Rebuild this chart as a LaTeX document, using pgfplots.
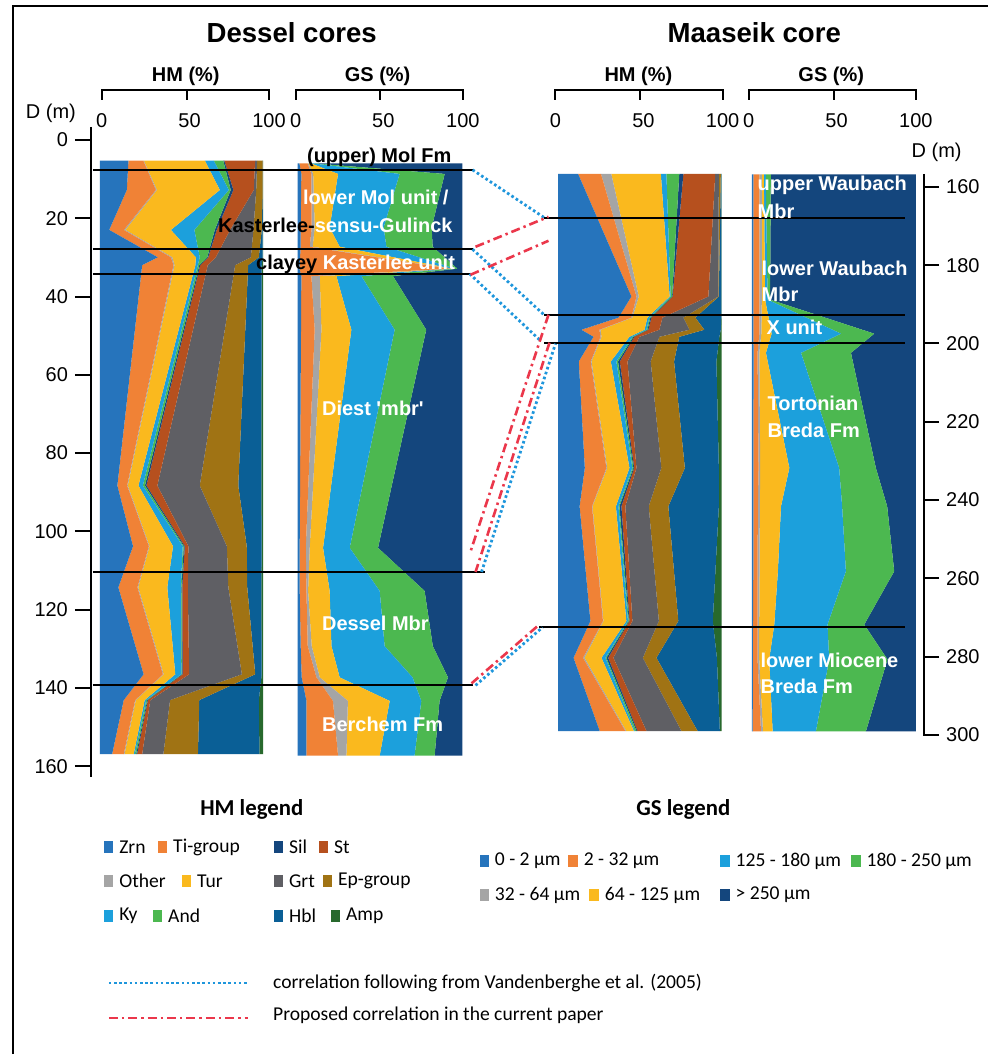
\documentclass[border=0pt]{standalone}
\usepackage{pgfplots}
\pgfplotsset{compat=1.18}
\usepackage{pgfplotstable}
\usepackage{fontspec}
\setmainfont{Liberation Sans}
\newfontfamily\calfont{Carlito}

\definecolor{cZrn}{RGB}{38,116,188}
\definecolor{cTi}{RGB}{240,130,54}
\definecolor{cOth}{RGB}{165,165,165}
\definecolor{cTur}{RGB}{250,185,30}
\definecolor{cKy}{RGB}{28,160,220}
\definecolor{cAnd}{RGB}{76,184,80}
\definecolor{cSil}{RGB}{20,70,125}
\definecolor{cSt}{RGB}{182,80,30}
\definecolor{cGrt}{RGB}{95,95,100}
\definecolor{cEp}{RGB}{160,115,20}
\definecolor{cHbl}{RGB}{10,95,150}
\definecolor{cAmp}{RGB}{40,105,45}
\definecolor{cCorrB}{RGB}{30,150,220}
\definecolor{cCorrR}{RGB}{235,55,75}

\pgfplotsset{/pgf/number format/assume math mode=true}

% Dessel heavy minerals (%), depth D in m; Z = zero baseline
\pgfplotstableread{
D Z Zrn Ti Oth Tur Ky And Sil St Grt Ep Hbl Amp
5.3 0 17.5 9.1 0.3 37.4 5.5 5.8 0.6 18.9 1.3 3.4 0.1 0.1
12.8 0 16.5 17.8 0.6 38.6 5.5 1.2 1.6 12.5 1.5 4.0 0.1 0.1
23.0 0 5.7 9.0 0.9 27.9 14.4 12.5 1.2 8.2 14.3 5.1 0.6 0.2
30.0 0 35.5 8.0 0.9 14.4 2.4 4.6 0.6 4.6 21.5 4.9 2.4 0.2
32.0 0 25.9 19.2 0.6 12.8 1.5 0.9 0.6 4.6 16.8 8.0 8.3 0.8
88.3 0 10.7 6.0 0.4 6.5 2.7 1.3 0.9 6.7 26.0 23.6 14.1 1.1
103.8 0 20.3 9.7 0.4 14.4 6.0 0.6 0.6 2.2 23.6 12.2 9.2 0.8
114.3 0 11.3 11.7 0.5 17.8 8.3 0.4 0.5 3.4 24.8 11.6 8.6 1.1
136.5 0 26.8 11.8 0.5 7.1 3.7 0.3 0.5 4.0 32.3 8.2 4.0 0.8
143.1 0 14.6 7.0 0.4 5.4 1.0 0.6 0.4 1.5 12.1 17.9 36.5 2.6
156.9 0 7.5 7.1 0.5 5.6 0.7 0.8 0.6 3.1 13.0 21.2 37.7 2.2
}\dhm

% Dessel grain size (%)
\pgfplotstableread{
D Z a b c d e f g
6.0 0 1.0 5.0 0.5 1.5 1.0 1.0 90.0
8.7 0 2.2 6.1 1.1 15.1 37.4 27.4 10.7
22.4 0 1.8 6.7 1.8 9.1 32.8 29.2 18.6
27.3 0 1.8 5.5 1.8 16.4 28.4 28.1 18.0
32.9 0 1.0 91.0 1.0 1.0 1.5 1.5 3.0
34.8 0 2.2 6.1 5.1 10.1 15.2 19.2 42.1
48.5 0 2.0 8.3 4.1 18.2 26.3 19.2 21.9
104.2 0 1.2 3.7 2.4 8.1 16.2 17.2 51.2
115.2 0 1.2 4.1 1.0 13.1 30.4 27.3 22.9
129.3 0 1.8 4.3 2.4 12.0 32.3 29.3 17.9
137.3 0 2.4 9.0 2.0 12.1 44.3 21.5 8.7
143.3 0 5.3 16.1 9.1 25.4 19.2 11.1 13.8
157.3 0 5.3 19.2 5.1 20.2 21.2 12.2 16.8
}\dgs

% Maaseik heavy minerals (%)
\pgfplotstableread{
D Z Zrn Ti Oth Tur Ky And Sil St Grt Ep Hbl Amp
156.7 0 12.2 14.0 6.3 30.3 3.4 7.9 2.5 19.5 2.2 1.2 0.4 0.1
188.0 0 44.8 3.1 1.4 18.9 0.6 0.9 0.3 21.9 6.1 0.3 1.5 0.2
193.4 0 36.9 7.9 0.6 9.2 1.2 0.6 0.6 6.8 12.8 7.3 15.9 0.2
196.5 0 14.2 11.0 0.7 26.9 1.2 0.6 0.6 6.7 18.4 9.1 10.1 0.5
198.3 0 21.6 4.3 0.6 17.1 1.8 0.6 0.6 3.1 12.2 12.2 24.5 1.4
204.6 0 12.6 7.3 0.5 11.8 3.4 1.0 1.1 4.7 14.2 14.3 25.9 3.2
231.8 0 16.3 13.2 0.5 13.6 1.8 0.6 0.5 1.4 15.2 14.4 20.8 1.7
241.6 0 13.1 7.6 0.3 14.3 1.6 0.6 1.2 2.4 14.3 12.0 30.9 1.7
270.9 0 19.7 7.7 0.3 14.0 1.0 0.5 0.4 1.8 16.2 11.9 21.1 5.4
280.3 0 9.4 5.8 0.9 10.4 2.4 0.6 1.1 3.2 18.0 8.3 37.0 2.9
299.0 0 25.4 15.7 0.5 4.7 0.6 1.0 0.6 5.5 21.4 9.9 13.6 1.1
}\mhm

% Maaseik grain size (%)
\pgfplotstableread{
D Z a b c d e f g
156.8 0 0.8 3.7 1.5 1.2 1.2 3.1 88.5
188.8 0 0.8 3.7 1.5 2.0 1.5 1.5 89.0
197.5 0 0.8 3.7 1.2 6.3 42.3 20.3 25.4
202.4 0 1.0 2.4 1.1 4.0 21.4 30.5 39.6
231.8 0 0.8 3.2 1.0 17.8 30.4 22.4 24.4
241.6 0 0.8 2.8 1.2 12.9 37.3 27.5 17.5
258.2 0 0.8 2.6 1.2 11.2 41.5 29.5 13.2
271.8 0 0.6 2.8 1.0 9.2 32.5 22.4 31.5
280.7 0 0.6 2.8 1.0 6.1 36.6 35.6 17.3
299.1 0 0.4 5.1 1.2 5.9 26.4 30.5 30.5
}\mgs

\pgfplotsset{
  panel/.style={anchor=north west, scale only axis, height=313.5pt,
    xmin=0, xmax=100, y dir=reverse, hide axis, stack plots=x},
}
\newcommand{\hmplots}[1]{%
  \addplot[draw=none] table[x=Z,y=D]{#1};
  \addplot[fill=cZrn,draw=none] table[x=Zrn,y=D]{#1} \closedcycle;
  \addplot[fill=cTi,draw=none] table[x=Ti,y=D]{#1} \closedcycle;
  \addplot[fill=cOth,draw=none] table[x=Oth,y=D]{#1} \closedcycle;
  \addplot[fill=cTur,draw=none] table[x=Tur,y=D]{#1} \closedcycle;
  \addplot[fill=cKy,draw=none] table[x=Ky,y=D]{#1} \closedcycle;
  \addplot[fill=cAnd,draw=none] table[x=And,y=D]{#1} \closedcycle;
  \addplot[fill=cSil,draw=none] table[x=Sil,y=D]{#1} \closedcycle;
  \addplot[fill=cSt,draw=none] table[x=St,y=D]{#1} \closedcycle;
  \addplot[fill=cGrt,draw=none] table[x=Grt,y=D]{#1} \closedcycle;
  \addplot[fill=cEp,draw=none] table[x=Ep,y=D]{#1} \closedcycle;
  \addplot[fill=cHbl,draw=none] table[x=Hbl,y=D]{#1} \closedcycle;
  \addplot[fill=cAmp,draw=none] table[x=Amp,y=D]{#1} \closedcycle;
}
\newcommand{\gsplots}[1]{%
  \addplot[draw=none] table[x=Z,y=D]{#1};
  \addplot[fill=cZrn,draw=none] table[x=a,y=D]{#1} \closedcycle;
  \addplot[fill=cTi,draw=none] table[x=b,y=D]{#1} \closedcycle;
  \addplot[fill=cOth,draw=none] table[x=c,y=D]{#1} \closedcycle;
  \addplot[fill=cTur,draw=none] table[x=d,y=D]{#1} \closedcycle;
  \addplot[fill=cKy,draw=none] table[x=e,y=D]{#1} \closedcycle;
  \addplot[fill=cAnd,draw=none] table[x=f,y=D]{#1} \closedcycle;
  \addplot[fill=cSil,draw=none] table[x=g,y=D]{#1} \closedcycle;
}

\begin{document}
\begin{tikzpicture}
\fill[white] (0,0) rectangle (494.5pt,-527.5pt);

% Dessel HM
\begin{axis}[panel, at={(50pt,-70pt)}, width=81.65pt, ymin=0, ymax=160]
\hmplots{\dhm}
\end{axis}
% Dessel GS
\begin{axis}[panel, at={(149pt,-70pt)}, width=82.35pt, ymin=0, ymax=160]
\gsplots{\dgs}
\end{axis}
% Maaseik HM
\begin{axis}[panel, at={(279.35pt,-70pt)}, width=81.8pt, ymin=148, ymax=308]
\hmplots{\mhm}
\end{axis}
% Maaseik GS
\begin{axis}[panel, at={(376.35pt,-70pt)}, width=82pt, ymin=148, ymax=308]
\gsplots{\mgs}
\end{axis}

% Dessel depth axis
\begin{axis}[at={(45.5pt,-63.5pt)}, anchor=north west, scale only axis,
  width=2pt, height=325.5pt, xmin=0, xmax=1, ymin=-3.32, ymax=162.8, y dir=reverse,
  axis y line=left, axis x line=none, axis line style={-, line width=1pt},
  ytick={0,20,...,160}, tick align=outside, major tick length=8pt,
  tick style={line width=1pt, black},
  yticklabel style={font=\fontsize{10}{12}\selectfont}]
\end{axis}
% Maaseik depth axis
\begin{axis}[at={(462.5pt,-87pt)}, anchor=north east, scale only axis,
  width=2pt, height=281.5pt, xmin=0, xmax=1, ymin=156.68, ymax=300.33, y dir=reverse,
  axis y line=right, axis x line=none, axis line style={-, line width=1pt},
  ytick={160,180,...,300}, tick align=outside, major tick length=7.5pt,
  tick style={line width=1pt, black},
  yticklabel style={font=\fontsize{10}{12}\selectfont}]
\end{axis}

% annotations in pixel units of the reference
\begin{scope}[x=0.5pt, y=-0.5pt]
\draw[line width=1pt] (13,1055) -- (13,6) -- (989,6);
\node[font=\bfseries\fontsize{13.8}{16}\selectfont] at (292,33) {Dessel cores};
\node[font=\bfseries\fontsize{13.8}{16}\selectfont] at (755,33) {Maaseik core};
\node[font=\bfseries\fontsize{10}{12}\selectfont] at (186,76) {HM (\%)};
\node[font=\bfseries\fontsize{10}{12}\selectfont] at (378,76) {GS (\%)};
\node[font=\bfseries\fontsize{10}{12}\selectfont] at (639,76) {HM (\%)};
\node[font=\bfseries\fontsize{10}{12}\selectfont] at (832,76) {GS (\%)};
\foreach \a/\b/\c in {101.7/186.7/269.3, 296/380.7/463.3, 556/641/723.3, 749.3/834.3/916.7}{
  \draw[line width=1pt] (\a,100) -- (\a,90) -- (\c,90) -- (\c,100);
  \draw[line width=1pt] (\b,90) -- (\b,100);
  \node[font=\fontsize{10}{12}\selectfont] at (\a,121) {0};
  \node[font=\fontsize{10}{12}\selectfont] at (\b+3,121) {50};
  \node[font=\fontsize{10}{12}\selectfont] at (\c,121) {100};
}
\node[font=\fontsize{10}{12}\selectfont] at (51,113) {D (m)};
\node[font=\fontsize{10}{12}\selectfont] at (937.5,152) {D (m)};
\foreach \ya/\xa in {170/473, 249.5/473, 274/470, 572.5/485, 686/473}{
  \draw[line width=0.9pt] (93,\ya) -- (\xa,\ya);}
\foreach \ya/\xa in {218/545, 315.5/545, 343/545, 627.5/540}{
  \draw[line width=0.9pt] (\xa,\ya) -- (906,\ya);}
\begin{scope}[cCorrB, line width=1.4pt, dash pattern=on 1.3pt off 1.3pt]
\draw (473,170) -- (545,218);
\draw (473,249.5) -- (545,315.5);
\draw (470,274) -- (541,341);
\draw (482,572.5) -- (556,344);
\draw (476,686) -- (543,628);
\draw (109,984) -- (248,984);
\end{scope}
\begin{scope}[cCorrR, line width=1.3pt, dash pattern=on 4.5pt off 2pt on 1.2pt off 2pt]
\draw (476,247) -- (549,217);
\draw (471,275) -- (549,241);
\draw (549,315) -- (471,552);
\draw (550,343) -- (476,572.5);
\draw (472,684) -- (540,625);
\draw (109,1019) -- (248,1019);
\end{scope}
\begin{scope}[every node/.style={anchor=west, inner sep=0pt, font=\bfseries\fontsize{10}{12}\selectfont}]
\node at (307,157) {(upper) Mol Fm};
\node[white] at (303,198) {lower Mol unit /};
\node at (218,226) {Kasterlee-\textcolor{white}{sensu-Gulinck}};
\node at (256,265) {clayey \textcolor{white}{Kasterlee unit}};
\node[white] at (322,409) {Diest \textquotesingle mbr\textquotesingle};
\node[white] at (322,624) {Dessel Mbr};
\node[white] at (322,725) {Berchem Fm};
\node[white] at (758,186) {upper Waubach};
\node[white] at (758,212) {Mbr};
\node[white] at (762,269) {lower Waubach};
\node[white] at (762,295) {Mbr};
\node[white] at (767,328) {X unit};
\node[white] at (768,404) {Tortonian};
\node[white] at (768,431) {Breda Fm};
\node[white] at (761,661) {lower Miocene};
\node[white] at (761,687) {Breda Fm};
\end{scope}
\node[font=\calfont\bfseries\fontsize{11.4}{13}\selectfont] at (252,810) {HM legend};
\node[font=\calfont\bfseries\fontsize{11.4}{13}\selectfont] at (684,810) {GS legend};
\begin{scope}[every node/.style={anchor=west, inner sep=0pt, font=\calfont\fontsize{9.8}{12}\selectfont}]
\foreach \col/\xs/\yy/\txt in {cZrn/104/848/Zrn, cTi/158/848/Ti-group, cSil/274/848/Sil, cSt/319/848/St,
  cOth/104/882/Other, cTur/182/882/Tur, cGrt/274/882/Grt, cEp/323/882/Ep-group,
  cKy/104/917/Ky, cAnd/153/917/And, cHbl/274/917/Hbl, cAmp/331/917/Amp,
  cZrn/480/862/0 - 2 µm, cTi/569/862/2 - 32 µm, cKy/721/862/125 - 180 µm, cAnd/852/862/180 - 250 µm,
  cOth/480/896/32 - 64 µm, cTur/590/896/64 - 125 µm, cSil/721/896/> 250 µm}{
  \fill[\col] (\xs,\yy-6) rectangle (\xs+9.5,\yy+6);
  \node at (\xs+15,\yy) {\txt};
}
\node at (273,984) {correlation following from Vandenberghe et al. (2005)};
\node at (273,1016) {Proposed correlation in the current paper};
\end{scope}
\end{scope}
\end{tikzpicture}
\end{document}
